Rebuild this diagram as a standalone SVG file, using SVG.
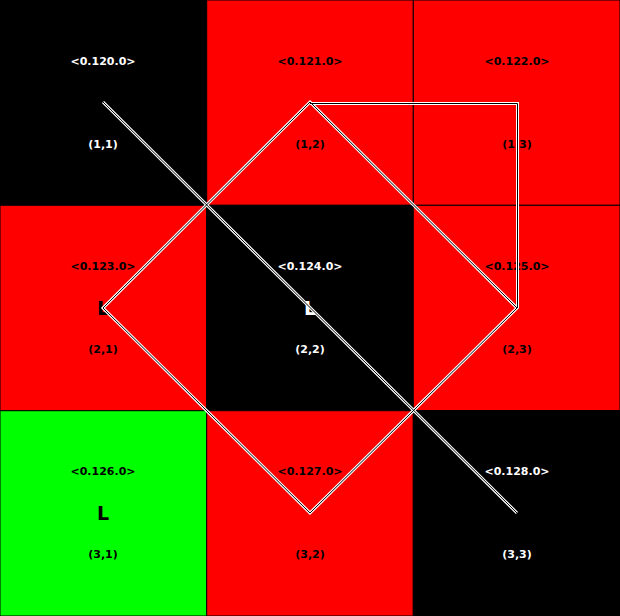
<svg xmlns="http://www.w3.org/2000/svg" width="620" height="616" viewBox="0 0 620 616">
<style>
.cell{stroke:#000;stroke-width:1}
.r{fill:#ff0000}.k{fill:#000000}.g{fill:#00ff00}
text{font-family:"DejaVu Sans",Verdana,sans-serif;font-weight:bold;text-anchor:middle;dominant-baseline:central}
.s{font-size:11px}.big{font-size:19px}
.w{fill:#fff}.b{fill:#000}
.lo{fill:none;stroke:#fff;stroke-width:3;stroke-linejoin:miter}
.li{fill:none;stroke:#000;stroke-width:1;stroke-linejoin:miter}
</style>
<g id="c11"><rect class="cell k" x="0" y="0" width="206.7" height="205.3"/><text class="s w" x="103" y="61">&lt;0.120.0&gt;</text><text class="s w" x="103" y="144">(1,1)</text></g>
<g id="c12"><rect class="cell r" x="206.7" y="0" width="206.6" height="205.3"/><text class="s b" x="310" y="61">&lt;0.121.0&gt;</text><text class="s b" x="310" y="144">(1,2)</text></g>
<g id="c13"><rect class="cell r" x="413.3" y="0" width="206.7" height="205.3"/><text class="s b" x="517" y="61">&lt;0.122.0&gt;</text><text class="s b" x="517" y="144">(1,3)</text></g>
<g id="c21"><rect class="cell r" x="0" y="205.3" width="206.7" height="205.4"/><text class="s b" x="103" y="266">&lt;0.123.0&gt;</text><text class="big b" x="103" y="308">L</text><text class="s b" x="103" y="349">(2,1)</text></g>
<g id="c22"><rect class="cell k" x="206.7" y="205.3" width="206.6" height="205.4"/><text class="s w" x="310" y="266">&lt;0.124.0&gt;</text><text class="big w" x="310" y="308">L</text><text class="s w" x="310" y="349">(2,2)</text></g>
<g id="c23"><rect class="cell r" x="413.3" y="205.3" width="206.7" height="205.4"/><text class="s b" x="517" y="266">&lt;0.125.0&gt;</text><text class="s b" x="517" y="349">(2,3)</text></g>
<g id="c31"><rect class="cell g" x="0" y="410.7" width="206.7" height="205.3"/><text class="s b" x="103" y="471">&lt;0.126.0&gt;</text><text class="big b" x="103" y="513">L</text><text class="s b" x="103" y="554">(3,1)</text></g>
<g id="c32"><rect class="cell r" x="206.7" y="410.7" width="206.6" height="205.3"/><text class="s b" x="310" y="471">&lt;0.127.0&gt;</text><text class="s b" x="310" y="554">(3,2)</text></g>
<g id="c33"><rect class="cell k" x="413.3" y="410.7" width="206.7" height="205.3"/><text class="s w" x="517" y="471">&lt;0.128.0&gt;</text><text class="s w" x="517" y="554">(3,3)</text></g>
<g id="connectors">
<path id="p1" class="lo" d="M103,102 L517,513"/>
<path id="p2" class="lo" d="M310,102 L517,308 L310,513 L103,308 Z"/>
<path id="p3" class="lo" d="M310,103.5 L517.5,103.5 L517.5,308"/>
<path class="li" d="M103,102 L517,513"/>
<path class="li" d="M310,102 L517,308 L310,513 L103,308 Z"/>
<path class="li" d="M310,103.5 L517.5,103.5 L517.5,308"/>
</g>
</svg>
